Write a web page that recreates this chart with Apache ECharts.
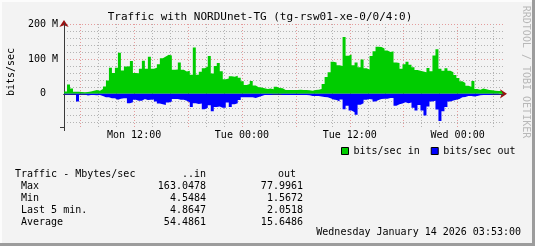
<!DOCTYPE html>
<html><head><meta charset="utf-8">
<script src="https://cdn.jsdelivr.net/npm/echarts@6/dist/echarts.min.js"></script>
<style>html,body{margin:0;padding:0;background:#f3f3f3}#c{width:535px;height:246px}</style>
</head><body><div id="c"></div>
<script>
// time axis in hours since Mon 00:00
const startHour = 4.2;
const stepHours = 1 / 3;
const endHour = 53.05;
const inVals = [7,27,15,6,6,5,4.5,5,7,9,11,9,14,21,38,75,60,75,118,67,78,79,94,60,59,72,95,72,106,72,
  75,85,102,107,112,110,69,70,90,69,64,66,55,133,55,63,73,78,108,58,80,88,65,42,44,50,49,52,46,36,
  25,28,37,24,19,18,16,14,15,13,20,17,16,11,11,11,11,11,12,11,11,10,9,11,12,14,28,48,62,92,
  90,82,80,163,109,113,82,90,76,98,73,70,108,122,135,134,130,124,120,122,90,88,72,85,92,83,76,68,66,64,
  62,74,65,110,128,72,66,73,66,62,54,45,36,31,23,20,37,14,12,15,13,11,10,9,8,8,5];
const outVals = [2,2,2,2,22,2,2,5,3,3,4,3,6,10,10,13,13,17,14,13,13,27,24,17,20,20,15,18,17,16,
  22,28,30,32,25,22,15,15,17,17,20,25,38,27,29,28,44,40,33,50,38,36,40,40,25,38,30,27,18,10,
  10,10,10,12,9,6,3,3,3,2,2,2,3,3,3,3,3,3,3,3,3,4,6,6,6,8,9,10,13,16,
  18,22,16,44,34,48,53,60,31,27,17,15,16,22,18,15,14,14,12,12,34,30,28,24,27,25,40,48,32,48,
  62,36,22,20,45,78,50,38,22,19,17,15,10,9,6,6,8,6,4,3,3,3,2,2,1.6,1.6,2];
const majorHours = [6,12,18,24,30,36,42,48];
const minorHours = [8,10,14,16,20,22,26,28,32,34,38,40,44,46,50,52];
const labelHours = [12,24,36,48];
const tickLabels = ['Mon 12:00','Tue 00:00','Tue 12:00','Wed 00:00'];
const yMajor = [0,100,200];
const yMinor = [-80,-60,-40,-20,20,40,60,80,120,140,160,180];
const yTickLabels = ['0  ','100 M','200 M'];
const statRows = ['Max','Min','Last 5 min.','Average'];
const statIn = ['163.0478','4.5484','4.8647','54.4861'];
const statOut = ['77.9961','1.5672','2.0518','15.6486'];

const FONT = 'DejaVu Sans Mono';
function toPoints(vals, sign) {
  const pts = vals.map((v, i) => [startHour + i * stepHours, sign * v]);
  pts.push([endHour, sign * vals[vals.length - 1]]);
  return pts;
}
const chart = echarts.init(document.getElementById('c'), null, {renderer:'canvas'});
const G = {left:64, right:32, top:24, bottom:119};
const AXIS_COLOR = '#3a3a3a';
const ARROW_COLOR = '#9a1010';
const gridMajor = {show:true, lineStyle:{color:'#e49c9c', type:[1,2], width:1}};
const gridMinor = {show:true, lineStyle:{color:'#b4b4b4', type:[1,2], width:1}};
const noSplit = {show:false};

const graphics = [
  {type:'text', x:260, y:17, style:{text:'Traffic with NORDUnet-TG (tg-rsw01-xe-0/0/4:0)', font:'11px '+FONT, fill:'#000', align:'center', verticalAlign:'middle'}},
  {type:'text', x:11, y:72, rotation:Math.PI/2, style:{text:'bits/sec', font:'10px '+FONT, fill:'#000', align:'center', verticalAlign:'middle'}},
  {type:'text', x:526, y:72, rotation:-Math.PI/2, style:{text:'RRDTOOL / TOBI OETIKER', font:'10px '+FONT, fill:'#b8b8b8', align:'center', verticalAlign:'middle'}},
  {type:'text', x:15, y:174, style:{text:'Traffic - Mbytes/sec', font:'10px '+FONT, fill:'#000', verticalAlign:'middle'}},
  {type:'text', x:206, y:174, style:{text:'..in', font:'10px '+FONT, fill:'#000', align:'right', verticalAlign:'middle'}},
  {type:'text', x:296, y:174, style:{text:'out', font:'10px '+FONT, fill:'#000', align:'right', verticalAlign:'middle'}},
  {type:'text', x:521, y:232, style:{text:'Wednesday January 14 2026 03:53:00', font:'10px '+FONT, fill:'#000', align:'right', verticalAlign:'middle'}},
  {type:'line', shape:{x1:64.5, y1:127, x2:64.5, y2:131}, style:{stroke:AXIS_COLOR, lineWidth:1}, z:10},
  {type:'line', shape:{x1:60, y1:127.5, x2:64, y2:127.5}, style:{stroke:AXIS_COLOR, lineWidth:1}, z:10},
  {type:'rect', shape:{x:0, y:0, width:535, height:2}, style:{fill:'#fcfcfc'}},
  {type:'rect', shape:{x:0, y:0, width:2, height:246}, style:{fill:'#fcfcfc'}},
  {type:'rect', shape:{x:532, y:0, width:3, height:246}, style:{fill:'#9c9c9c'}},
  {type:'rect', shape:{x:0, y:243, width:535, height:3}, style:{fill:'#9c9c9c'}}
];
statRows.forEach((r, i) => {
  const y = 186 + i * 12;
  graphics.push({type:'text', x:21, y, style:{text:r, font:'10px '+FONT, fill:'#000', verticalAlign:'middle'}});
  graphics.push({type:'text', x:206, y, style:{text:statIn[i], font:'10px '+FONT, fill:'#000', align:'right', verticalAlign:'middle'}});
  graphics.push({type:'text', x:303, y, style:{text:statOut[i], font:'10px '+FONT, fill:'#000', align:'right', verticalAlign:'middle'}});
});

chart.setOption({
  animation:false,
  backgroundColor:'#f3f3f3',
  grid:G,
  legend:{left:336, top:141, itemWidth:7, itemHeight:7, itemGap:11, icon:'rect',
    textStyle:{fontFamily:FONT, fontSize:10, color:'#000'},
    data:[{name:'bits/sec in', icon:'rect', itemStyle:{color:'#00cc00', borderColor:'#000', borderWidth:1}},
          {name:'bits/sec out', icon:'rect', itemStyle:{color:'#0000ff', borderColor:'#000', borderWidth:1}}]},
  xAxis:[
    {type:'value', min:startHour, max:endHour, position:'bottom', z:1,
     axisLine:{show:true, lineStyle:{color:AXIS_COLOR}},
     axisTick:{show:true, inside:true, length:2, customValues:majorHours, lineStyle:{color:'#e06060'}},
     axisLabel:{show:true, customValues:labelHours, margin:3, fontFamily:FONT, fontSize:10, color:'#000',
       formatter:(v)=>tickLabels[labelHours.indexOf(Math.round(v))] || ''},
     splitLine:gridMajor},
    {type:'value', min:startHour, max:endHour, position:'bottom', z:1,
     axisLine:{show:true, lineStyle:{color:AXIS_COLOR}},
     axisTick:{show:true, inside:true, length:2, customValues:minorHours, lineStyle:{color:'#a0a0a0'}},
     axisLabel:{show:false},
     splitLine:gridMinor},
    {type:'value', min:startHour, max:endHour, position:'bottom', z:0,
     axisLine:{show:true, symbol:['none','arrow'], symbolSize:[7,7], symbolOffset:[0,4], lineStyle:{color:ARROW_COLOR}},
     axisTick:{show:false}, axisLabel:{show:false}, splitLine:noSplit}
  ],
  yAxis:[
    {type:'value', min:-95, max:200, position:'left', z:1,
     axisLine:{show:true, lineStyle:{color:AXIS_COLOR}},
     axisTick:{show:false, customValues:yMajor},
     axisLabel:{show:true, customValues:yMajor, margin:6, fontFamily:FONT, fontSize:10, color:'#000',
       formatter:(v)=>yTickLabels[yMajor.indexOf(Math.round(v))] || ''},
     splitLine:gridMajor},
    {type:'value', min:-95, max:200, position:'left', z:1,
     axisLine:{show:true, lineStyle:{color:AXIS_COLOR}},
     axisTick:{show:false, customValues:yMinor},
     axisLabel:{show:false},
     splitLine:gridMinor},
    {type:'value', min:-95, max:200, position:'left', z:0,
     axisLine:{show:true, symbol:['none','arrow'], symbolSize:[7,7], symbolOffset:[0,4], lineStyle:{color:ARROW_COLOR}},
     axisTick:{show:false}, axisLabel:{show:false}, splitLine:noSplit}
  ],
  series:[
    {name:'bits/sec in', type:'line', step:'end', xAxisIndex:0, yAxisIndex:0, showSymbol:false, symbol:'none',
     data:toPoints(inVals, 1), lineStyle:{width:0, color:'#00cc00'}, itemStyle:{color:'#00cc00'},
     areaStyle:{color:'#00cc00', opacity:1}},
    {name:'bits/sec out', type:'line', step:'end', xAxisIndex:0, yAxisIndex:0, showSymbol:false, symbol:'none',
     data:toPoints(outVals, -1), lineStyle:{width:0, color:'#0000ff'}, itemStyle:{color:'#0000ff'},
     areaStyle:{color:'#0000ff', opacity:1}}
  ],
  graphic:graphics
});
</script></body></html>
